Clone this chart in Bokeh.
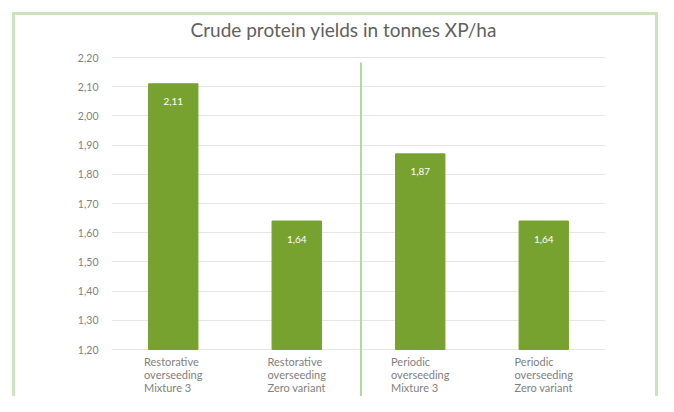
from bokeh.plotting import figure
from bokeh.models import (ColumnDataSource, FactorRange, Range1d, FixedTicker,
                          CustomJSTickFormatter, LabelSet, Label, Arrow, InlineStyleSheet)
from bokeh.embed import file_html
from bokeh.resources import INLINE
from bokeh.core.properties import value

# ---- data ----
categories = ["Restorative\noverseeding\nMixture 3",
              "Restorative\noverseeding\nZero variant",
              "Periodic\noverseeding\nMixture 3",
              "Periodic\noverseeding\nZero variant"]
yields = [2.11, 1.64, 1.87, 1.64]
y_ticks = [1.2, 1.3, 1.4, 1.5, 1.6, 1.7, 1.8, 1.9, 2.0, 2.1, 2.2]
title_text = "Crude protein yields in tonnes XP/ha"

FONT = "Lato"
BAR = "#78A22F"
GRAY = "#7f7f7f"

# ---- layout (pixels) ----
W, H = 658, 396
PLOT_TOP, PLOT_BOTTOM = 57, 349          # pixel rows of the top / bottom gridline
y_lo, y_hi = y_ticks[0], y_ticks[-1]
px_per_unit = (PLOT_BOTTOM - PLOT_TOP) / (y_hi - y_lo)
y_range = Range1d(y_lo - (H - PLOT_BOTTOM) / px_per_unit,
                  y_hi + PLOT_TOP / px_per_unit)

labels = [f"{v:.2f}".replace(".", ",") for v in yields]
src = ColumnDataSource(dict(cat=categories, top=yields, lab=labels,
                            base=[y_lo] * len(categories)))

p = figure(width=W, height=H, output_backend="svg", toolbar_location=None,
           x_range=FactorRange(*categories, range_padding=0),
           y_range=y_range,
           min_border_left=111, min_border_right=53,
           min_border_top=0, min_border_bottom=0)
p.background_fill_color = "white"
p.border_fill_color = "white"
p.outline_line_color = None

p.vbar(x="cat", top="top", bottom=y_lo, width=0.4, source=src,
       fill_color=BAR, line_color=BAR)

# value labels inside bars
p.add_layout(LabelSet(x="cat", y="top", text="lab", source=src, y_offset=-18,
                      text_align="center", text_baseline="middle",
                      text_color="white", text_font=value(FONT),
                      text_font_size="10px"))

# category labels under the bars
p.add_layout(LabelSet(x="cat", y="base", text="cat", source=src, y_offset=-5,
                      text_align="center", text_baseline="top",
                      text_color=GRAY, text_font=value(FONT),
                      text_font_size="11px", text_line_height=1.0))

# y axis
p.yaxis.ticker = FixedTicker(ticks=y_ticks)
p.yaxis.formatter = CustomJSTickFormatter(code="return tick.toFixed(2).replace('.', ',');")
p.yaxis.axis_line_color = None
p.yaxis.major_tick_line_color = None
p.yaxis.minor_tick_line_color = None
p.yaxis.major_tick_out = 0
p.yaxis.minor_tick_out = 0
p.yaxis.major_label_standoff = 13
p.yaxis.major_label_text_font = FONT
p.yaxis.major_label_text_font_size = "10.5px"
p.yaxis.major_label_text_color = GRAY

p.xaxis.visible = False
p.xgrid.grid_line_color = None
p.ygrid.grid_line_color = "#e6e6e6"
p.ygrid.grid_line_width = 1

# separator line between the two groups
p.add_layout(Arrow(end=None, x_start=2.02, x_end=2.02,
                   y_start=y_hi - 5 / px_per_unit, y_end=y_range.start,
                   line_color="#b3d99a", line_width=2))

# title
p.add_layout(Label(x=1.88, y=y_hi + 28 / px_per_unit, text=title_text,
                   text_align="center", text_baseline="middle", text_font=FONT,
                   text_font_size="19px", text_color="#606060"))

# outer chart border (CSS overlay, no effect on layout)
p.stylesheets = [InlineStyleSheet(css=(
    ":host::after { content: ''; position: absolute; left: 12px; top: 12px; "
    "right: 0px; bottom: 0px; border: 3px solid #cbe4bc; border-bottom: none; "
    "pointer-events: none; z-index: 10; }"))]

open("out.html", "w").write(file_html(p, INLINE))
